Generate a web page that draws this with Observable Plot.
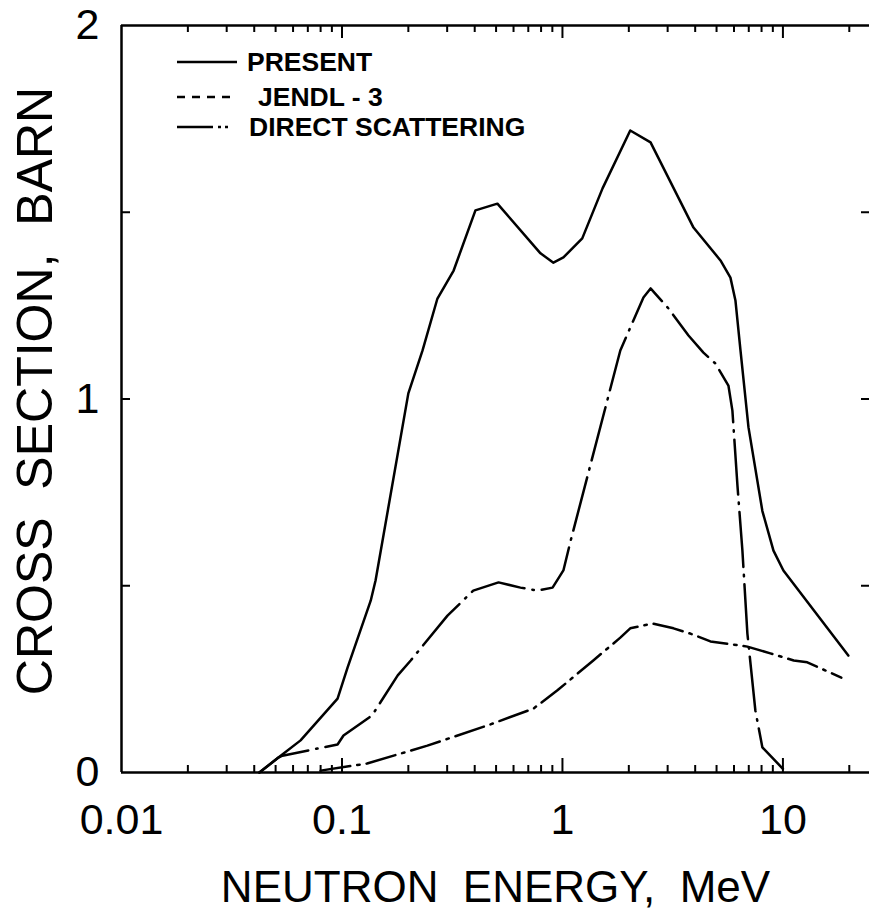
<!DOCTYPE html>
<html>
<head>
<meta charset="utf-8">
<script src="https://cdn.jsdelivr.net/npm/d3@7"></script>
<script src="https://cdn.jsdelivr.net/npm/@observablehq/plot@0.6"></script>
<style>
  html, body { margin: 0; padding: 0; background: white; }
  #chart svg { display: block; }
</style>
</head>
<body>
<div id="chart"></div>
<script>
// ---- data ----
const seriesNames = ["PRESENT", "JENDL - 3", "DIRECT SCATTERING"];

const energyPresent = [0.0422, 0.0515, 0.0649, 0.0955, 0.106, 0.135, 0.142, 0.200, 0.232, 0.271, 0.321, 0.403, 0.507, 0.795, 0.910, 1.01, 1.23, 1.52, 2.03, 2.51, 3.93, 5.21, 5.78, 6.09, 6.42, 6.98, 8.07, 9.06, 10.05, 19.8];
const sigmaPresent  = [0, 0.040, 0.086, 0.198, 0.281, 0.46, 0.514, 1.015, 1.13, 1.269, 1.344, 1.505, 1.523, 1.39, 1.365, 1.379, 1.43, 1.564, 1.719, 1.687, 1.459, 1.371, 1.325, 1.264, 1.13, 0.924, 0.70, 0.594, 0.541, 0.313];

const energyJendl = [0.0422, 0.0515, 0.0537, 0.0955, 0.1016, 0.137, 0.179, 0.205, 0.301, 0.394, 0.513, 0.645, 0.771, 0.902, 1.01, 1.09, 1.83, 2.33, 2.51, 3.03, 3.73, 4.36, 4.94, 5.66, 5.90, 6.22, 6.55, 6.9, 7.5, 8.07, 10.0];
const sigmaJendl  = [0, 0.040, 0.045, 0.075, 0.099, 0.153, 0.26, 0.30, 0.42, 0.487, 0.509, 0.495, 0.487, 0.495, 0.541, 0.621, 1.13, 1.272, 1.296, 1.242, 1.17, 1.124, 1.095, 1.036, 0.969, 0.768, 0.594, 0.372, 0.166, 0.067, 0.01];

const energyDirect = [0.080, 0.130, 0.244, 0.457, 0.738, 0.949, 1.38, 1.83, 2.03, 2.56, 3.19, 3.8, 4.69, 6.9, 8.77, 11.2, 12.9, 18.4];
const sigmaDirect  = [0.005, 0.024, 0.072, 0.126, 0.171, 0.22, 0.30, 0.361, 0.386, 0.399, 0.386, 0.372, 0.351, 0.337, 0.319, 0.30, 0.295, 0.254];

const xMajorTicks = [0.01, 0.1, 1, 10];
const xTickLabels = ["0.01", "0.1", "1", "10"];
const xMinorTicks = [0.02, 0.03, 0.04, 0.05, 0.06, 0.07, 0.08, 0.09,
                     0.2, 0.3, 0.4, 0.5, 0.6, 0.7, 0.8, 0.9,
                     2, 3, 4, 5, 6, 7, 8, 9, 20];
const yMajorTicks = [0, 1, 2];
const yTickLabels = ["0", "1", "2"];
const yInnerTicks = [0.5, 1, 1.5];
const xTitle = "NEUTRON\u00a0\u00a0ENERGY,\u00a0\u00a0MeV";
const yTitle = "CROSS\u00a0\u00a0SECTION,\u00a0\u00a0BARN";

// ---- build tables ----
const present = energyPresent.map((e, i) => ({E: e, s: sigmaPresent[i]}));
const jendl = energyJendl.map((e, i) => ({E: e, s: sigmaJendl[i]}));
const direct = energyDirect.map((e, i) => ({E: e, s: sigmaDirect[i]}));

const W = 869, H = 912, mL = 121, mR = 0, mT = 25, mB = 140;
const frameH = H - mT - mB, frameW = W - mL - mR;
const LW = 2.5;

const chart = Plot.plot({
  width: W, height: H,
  marginLeft: mL, marginRight: mR, marginTop: mT, marginBottom: mB,
  x: {type: "log", domain: [0.01, 24.7]},
  y: {domain: [0, 2]},
  style: {fontFamily: "'Liberation Sans', Arial, sans-serif", background: "white", color: "black"},
  marks: [
    // frame lines
    Plot.ruleY([0, 2], {stroke: "black", strokeWidth: LW}),
    Plot.ruleX([0.01], {stroke: "black", strokeWidth: LW}),
    // inward ticks bottom/top
    Plot.ruleX(xMajorTicks.slice(1), {stroke: "black", strokeWidth: 2, insetTop: frameH - 14}),
    Plot.ruleX(xMinorTicks, {stroke: "black", strokeWidth: 2, insetTop: frameH - 7}),
    Plot.ruleX(xMajorTicks.slice(1), {stroke: "black", strokeWidth: 2, insetBottom: frameH - 13}),
    Plot.ruleX(xMinorTicks, {stroke: "black", strokeWidth: 2, insetBottom: frameH - 7}),
    // inward ticks left/right
    Plot.ruleY(yInnerTicks, {stroke: "black", strokeWidth: 2, insetRight: frameW - 9}),
    Plot.ruleY(yInnerTicks, {stroke: "black", strokeWidth: 2, insetLeft: frameW - 8}),
    // axes labels
    Plot.axisX(xMajorTicks, {anchor: "bottom", tickSize: 0, tickPadding: 31, fontSize: 43,
      tickFormat: d => xTickLabels[xMajorTicks.indexOf(d)], label: null}),
    Plot.axisY(yMajorTicks, {anchor: "left", tickSize: 0, tickPadding: 22, fontSize: 43,
      tickFormat: d => yTickLabels[yMajorTicks.indexOf(d)], label: null}),
    Plot.text([xTitle], {frameAnchor: "bottom", dy: 115, fontSize: 44, lineAnchor: "middle", textAnchor: "middle", text: d => d, fill: "black"}),
    Plot.text([yTitle], {frameAnchor: "left", dx: -86, dy: -8, rotate: -90, fontSize: 50, lineAnchor: "middle", textAnchor: "middle", text: d => d, fill: "black"}),
    // curves
    Plot.line(direct, {x: "E", y: "s", stroke: "black", strokeWidth: LW, strokeDasharray: "30,7,2.5,7"}),
    Plot.line(jendl, {x: "E", y: "s", stroke: "black", strokeWidth: LW, strokeDasharray: "55,8,1.5,8"}),
    Plot.line(present, {x: "E", y: "s", stroke: "black", strokeWidth: LW})
  ]
});

document.getElementById("chart").appendChild(chart);

// legend (inside the plot area, top-left)
const svg = d3.select(chart);
const leg = svg.append("g").attr("font-family", "'Liberation Sans', Arial, sans-serif")
  .attr("font-size", 26.5).attr("font-weight", "bold").attr("text-anchor", "start");
const legendRows = [
  {y: 62, dash: null, tx: 247},
  {y: 97, dash: "8,7", tx: 258},
  {y: 127, dash: "36,5,3,4,3,20", tx: 249}
];
seriesNames.forEach((name, i) => {
  const r = legendRows[i];
  const ln = leg.append("line").attr("x1", 177).attr("x2", 237).attr("y1", r.y).attr("y2", r.y)
    .attr("stroke", "black").attr("stroke-width", 2.5);
  if (r.dash) ln.attr("stroke-dasharray", r.dash);
  leg.append("text").attr("x", r.tx).attr("y", r.y + 9).attr("fill", "black")
    .attr("text-anchor", "start").text(name);
});
</script>
</body>
</html>
